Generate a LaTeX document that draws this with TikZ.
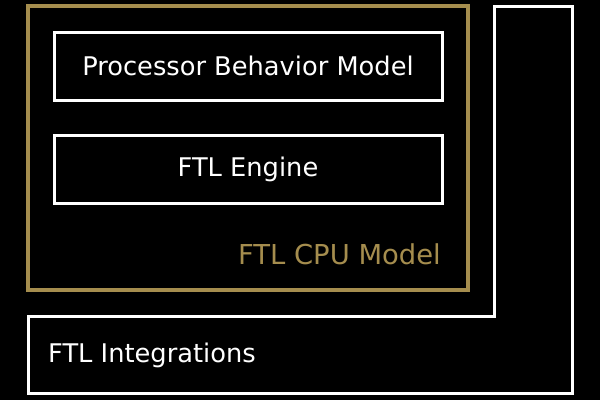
\documentclass[tikz,border=0pt]{standalone}
\usepackage{fontspec}
\setmainfont{DejaVu Sans}
\definecolor{gold}{RGB}{165,141,78}
\begin{document}
\begin{tikzpicture}[x=1pt,y=-1pt,
  wbox/.style={draw=white,line width=3pt,minimum width=388pt,minimum height=68pt,inner sep=0pt,text=white,font=\fontsize{25.7}{30}\selectfont},
  lbl/.style={inner sep=0pt,font=\fontsize{25.7}{30}\selectfont}]
\fill[black] (0,0) rectangle (600,400);
\useasboundingbox (0,0) rectangle (600,400);
\draw[gold,line width=3.5pt] (28,6) rectangle (468,290);
\node[wbox] (pbm) at (248,66) {Processor Behavior Model};
\node[wbox] (eng) at (248,169) {FTL Engine};
\node[lbl,text=gold,anchor=base east,font=\fontsize{27.4}{32}\selectfont] (cpu) at (441,264) {FTL CPU Model};
\draw[white,line width=3pt] (28,316) -- (494,316) -- (494,6) -- (572,6) -- (572,393) -- (28,393) -- cycle;
\node[lbl,text=white,anchor=base west] (integ) at (48,362) {FTL Integrations};
\end{tikzpicture}
\end{document}
